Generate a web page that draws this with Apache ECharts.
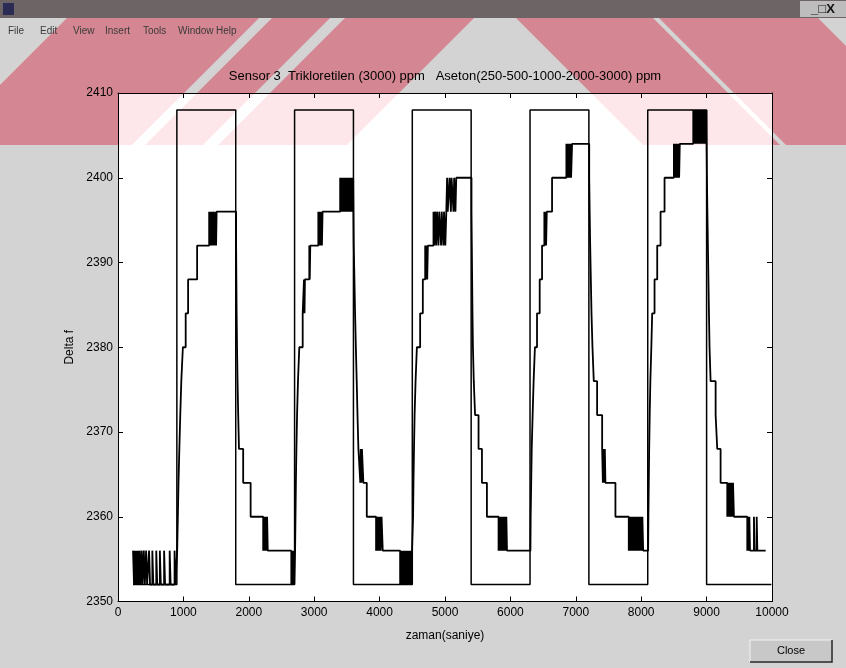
<!DOCTYPE html>
<html>
<head>
<meta charset="utf-8">
<script src="https://cdn.jsdelivr.net/npm/echarts@6/dist/echarts.min.js"></script>
<style>
html,body{margin:0;padding:0;background:#d3d3d3;}
#chart{width:846px;height:668px;}
</style>
</head>
<body>
<div id="chart"></div>
<script>
// ---------------- DATA ----------------
const chartTitle = 'Sensor 3  Trikloretilen (3000) ppm   Aseton(250-500-1000-2000-3000) ppm';
const xAxisTitle = 'zaman(saniye)';
const yAxisTitle = 'Delta f';
const menuItems = ['File', 'Edit', 'View', 'Insert', 'Tools', 'Window', 'Help'];

const xRange = [0, 10000];
const yRange = [2350, 2410];

// gas on / off square wave
const gasOnTimes  = [900, 2700, 4500, 6300, 8100];
const gasOffTimes = [1800, 3600, 5400, 7200, 9000];
const gasLevels   = [2352, 2408];      // off, on
const gasSpan     = [230, 9990];       // first / last time of the record

// sensor response [time, delta f] (held until next time)
const response1 = [
  [230,2356],[245,2352],[256,2356],[268,2352],[280,2356],[292,2352],[305,2356],[318,2352],[330,2356],[345,2352],
  [362,2356],[375,2352],[395,2356],[410,2352],[430,2356],[445,2352],[475,2356],[490,2352],[525,2356],[540,2352],
  [585,2356],[600,2352],[640,2356],[655,2352],[705,2356],[720,2352],[790,2356],[805,2352],[865,2356],[880,2352],
  [905,2356],[915,2360],[925,2364],[938,2368],[952,2372],[968,2376],[992,2380],[1035,2384],[1072,2388],[1210,2392],
  [1394,2396],[1404,2392],[1414,2396],[1426,2392],[1436,2396],[1450,2392],[1460,2396],[1478,2392],[1490,2396],[1500,2392],[1508,2396],
  [1806,2392],[1810,2388],[1814,2384],[1820,2380],[1828,2376],[1838,2372],[1850,2368],[1914,2364],[2028,2360],
  [2220,2356],[2232,2360],[2244,2356],[2256,2360],[2268,2356],[2280,2360],[2290,2356],
  [2650,2352],[2662,2356],[2672,2352],[2684,2356],[2694,2352]
];
const response2 = [
  [2708,2356],[2714,2360],[2720,2364],[2728,2368],[2738,2372],[2752,2376],[2772,2380],[2824,2384],[2844,2388],[2852,2384],[2858,2388],
  [2925,2392],[2932,2388],[2940,2392],[3063,2396],[3072,2392],[3082,2396],[3094,2392],[3104,2396],[3118,2392],[3128,2396],
  [3397,2400],[3408,2396],[3416,2400],[3426,2396],[3436,2400],[3446,2396],[3456,2400],[3466,2396],[3476,2400],[3486,2396],
  [3496,2400],[3506,2396],[3516,2400],[3526,2396],[3536,2400],[3546,2396],[3556,2400],[3566,2396],[3576,2400],[3586,2396],[3596,2400],
  [3605,2392],[3615,2388],[3625,2384],[3637,2380],[3650,2376],[3662,2372],[3676,2368],[3705,2364],[3712,2368],[3722,2364],[3730,2368],
  [3752,2364],[3804,2360],[3946,2356],[3956,2360],[3966,2356],[3978,2360],[3990,2356],[4004,2360],[4016,2356],[4030,2360],[4048,2356],
  [4314,2352],[4322,2356],[4330,2352],[4338,2356],[4346,2352],[4354,2356],[4362,2352],[4370,2356],[4380,2352],[4388,2356],
  [4398,2352],[4406,2356],[4416,2352],[4424,2356],[4434,2352],[4442,2356],[4452,2352],[4460,2356],[4470,2352],[4478,2356],[4488,2352],[4496,2356]
];
const response3 = [
  [4508,2356],[4512,2360],[4518,2364],[4526,2368],[4535,2372],[4550,2376],[4570,2380],[4620,2384],[4661,2388],
  [4697,2392],[4707,2388],[4716,2392],[4728,2388],[4738,2392],
  [4824,2396],[4836,2392],[4848,2396],[4866,2392],[4878,2396],[4900,2392],[4912,2396],[4940,2392],[4950,2396],[4975,2392],[4985,2396],[5005,2392],
  [5020,2396],[5032,2400],[5042,2396],[5069,2400],[5090,2396],[5100,2400],[5130,2396],[5140,2400],[5160,2396],[5172,2400],
  [5405,2396],[5410,2392],[5415,2388],[5420,2384],[5427,2380],[5440,2376],[5460,2372],[5513,2368],[5565,2364],[5641,2360],
  [5819,2356],[5830,2360],[5842,2356],[5856,2360],[5868,2356],[5882,2360],[5894,2356],[5910,2360],[5922,2356],[5938,2360],[5948,2356]
];
const response4 = [
  [6306,2356],[6310,2360],[6318,2364],[6326,2368],[6340,2372],[6355,2376],[6375,2380],[6407,2384],[6448,2388],[6484,2392],
  [6519,2396],[6528,2392],[6536,2396],[6546,2392],[6556,2396],[6637,2400],
  [6856,2404],[6866,2400],[6874,2404],[6884,2400],[6894,2404],[6906,2400],[6916,2404],[6928,2400],[6943,2404],
  [7205,2400],[7212,2396],[7220,2392],[7230,2388],[7240,2384],[7255,2380],[7275,2376],[7326,2372],[7403,2368],
  [7414,2364],[7424,2368],[7436,2364],[7444,2368],[7453,2364],[7606,2360],
  [7810,2356],[7820,2360],[7830,2356],[7842,2360],[7852,2356],[7864,2360],[7876,2356],[7888,2360],[7900,2356],[7914,2360],
  [7926,2356],[7940,2360],[7952,2356],[7966,2360],[7978,2356],[7992,2360],[8004,2356],[8018,2360],[8030,2356]
];
const response5 = [
  [8106,2356],[8110,2360],[8116,2364],[8122,2368],[8130,2372],[8140,2376],[8155,2380],[8168,2384],[8204,2388],[8245,2392],[8296,2396],[8357,2400],
  [8500,2404],[8510,2400],[8520,2404],[8532,2400],[8544,2404],[8556,2400],[8570,2404],[8580,2400],[8590,2404],
  [8796,2408],[8806,2404],[8814,2408],[8824,2404],[8832,2408],[8842,2404],[8850,2408],[8862,2404],[8870,2408],[8880,2404],
  [8888,2408],[8898,2404],[8906,2408],[8918,2404],[8926,2408],[8936,2404],[8944,2408],[8954,2404],[8962,2408],[8972,2404],
  [8980,2408],[8990,2404],[8996,2408],
  [9005,2400],[9012,2396],[9020,2392],[9028,2388],[9036,2384],[9045,2380],[9061,2376],[9138,2372],[9163,2368],[9214,2364],
  [9316,2360],[9328,2364],[9340,2360],[9352,2364],[9366,2360],[9378,2364],[9392,2360],[9404,2364],[9418,2360],
  [9622,2356],[9632,2360],[9642,2356],[9654,2360],[9664,2356],[9724,2360],[9734,2356],[9766,2360],[9776,2356],[9903,2356]
];

// ---------------- BUILD ----------------
const gasWave = [[gasSpan[0], gasLevels[0]]];
gasOnTimes.forEach((t, i) => {
  gasWave.push([t, gasLevels[1]]);
  gasWave.push([gasOffTimes[i], gasLevels[0]]);
});
gasWave.push([gasSpan[1], gasLevels[0]]);
const responseWave = [].concat(response1, response2, response3, response4, response5);

// watermark stripes (decoration, pixel geometry)
function slash(b0, b1, topY, botY) { // "/" : top shifted right
  const h = botY - topY;
  return [[b0, botY], [b1, botY], [b1 + h, topY], [b0 + h, topY]];
}
function backslash(t0, t1, topY, botY) { // "\" : bottom shifted right
  const h = botY - topY;
  return [[t0, topY], [t1, topY], [t1 + h, botY], [t0 + h, botY]];
}
const stripes = [
  slash(-60, 132, 0, 145),
  slash(145, 203, 0, 145),
  slash(218, 347, 0, 145),
  backslash(498, 635, 0, 145),
  backslash(641, 800, 0, 145)
];

const FONT = '"Liberation Sans", Arial, Helvetica, sans-serif';
const graphics = [];
stripes.forEach(p => graphics.push({type:'polygon', z:1, silent:true, shape:{points:p}, style:{fill:'rgba(205,40,60,0.38)'}}));
// plot area white background
graphics.push({type:'rect', z:2, silent:true, shape:{x:118, y:93, width:654, height:508.5}, style:{fill:'#ffffff'}});
stripes.forEach(p => graphics.push({type:'polygon', z:3, silent:true, shape:{points:p}, style:{fill:'rgba(235,60,90,0.12)'}}));
// window title bar
graphics.push({type:'rect', z:4, silent:true, shape:{x:0, y:0, width:846, height:18}, style:{fill:'#6d6466'}});
graphics.push({type:'rect', z:4, silent:true, shape:{x:800, y:1, width:46, height:16}, style:{fill:'#bdbdbd'}});
graphics.push({type:'rect', z:5, silent:true, shape:{x:3, y:3, width:11, height:12}, style:{fill:'#2b2b55'}});
graphics.push({type:'text', z:5, silent:true, x:823, y:9, style:{text:'_□X', font:'bold 13px ' + FONT, fill:'#111', align:'center', verticalAlign:'middle', textAlign:'center', textVerticalAlign:'middle'}});
// menu
const menuX = [8, 40, 73, 105, 143, 178, 216];
menuItems.forEach((m, i) => graphics.push({type:'text', z:5, silent:true, x:menuX[i], y:31,
  style:{text:m, font:'10px ' + FONT, fill:'#3a3a3a', align:'left', verticalAlign:'middle', textAlign:'left', textVerticalAlign:'middle'}}));
// chart title
graphics.push({type:'text', z:6, silent:true, x:445, y:76, style:{text:chartTitle, font:'13px ' + FONT, fill:'#000',
  align:'center', verticalAlign:'middle', textAlign:'center', textVerticalAlign:'middle'}});
// Close button
graphics.push({type:'rect', z:5, silent:true, shape:{x:750, y:640, width:82, height:22}, style:{fill:'#c8c8c8', stroke:'#f2f2f2', lineWidth:1}});
graphics.push({type:'polyline', z:6, silent:true, shape:{points:[[750,662],[832,662],[832,640]]}, style:{stroke:'#222', lineWidth:1.5, fill:null}});
graphics.push({type:'text', z:6, silent:true, x:791, y:651, style:{text:'Close', font:'11px ' + FONT, fill:'#000',
  align:'center', verticalAlign:'middle', textAlign:'center', textVerticalAlign:'middle'}});

const axisLineStyle = {color:'#000', width:1};
const plainNumber = v => String(v);
const option = {
  backgroundColor: '#d3d3d3',
  animation: false,
  grid: {left:118, top:93, width:654, height:508.5, containLabel:false, outerBoundsMode:'none', show:false},
  xAxis: [
    {type:'value', position:'bottom', min:xRange[0], max:xRange[1], interval:1000, z:8,
     axisLine:{show:true, onZero:false, lineStyle:axisLineStyle},
     axisTick:{show:true, inside:true, length:5, lineStyle:axisLineStyle},
     axisLabel:{show:true, margin:5, color:'#000', fontSize:12, fontFamily:FONT, formatter:plainNumber, showMinLabel:true, showMaxLabel:true},
     splitLine:{show:false},
     name:xAxisTitle, nameLocation:'middle', nameGap:28, nameTextStyle:{color:'#000', fontSize:12, fontFamily:FONT}},
    {type:'value', position:'top', min:xRange[0], max:xRange[1], interval:1000, z:8,
     axisLine:{show:true, onZero:false, lineStyle:axisLineStyle},
     axisTick:{show:true, inside:true, length:5, lineStyle:axisLineStyle},
     axisLabel:{show:false}, splitLine:{show:false}}
  ],
  yAxis: [
    {type:'value', position:'left', min:yRange[0], max:yRange[1], interval:10, z:8,
     axisLine:{show:true, onZero:false, lineStyle:axisLineStyle},
     axisTick:{show:true, inside:true, length:5, lineStyle:axisLineStyle},
     axisLabel:{show:true, margin:5, color:'#000', fontSize:12, fontFamily:FONT, formatter:plainNumber, showMinLabel:true, showMaxLabel:true},
     splitLine:{show:false},
     name:yAxisTitle, nameLocation:'middle', nameGap:31, nameRotate:90, nameTextStyle:{color:'#000', fontSize:12, fontFamily:FONT}},
    {type:'value', position:'right', min:yRange[0], max:yRange[1], interval:10, z:8,
     axisLine:{show:true, onZero:false, lineStyle:axisLineStyle},
     axisTick:{show:true, inside:true, length:5, lineStyle:axisLineStyle},
     axisLabel:{show:false}, splitLine:{show:false}}
  ],
  series: [
    {type:'line', name:'gas', xAxisIndex:0, yAxisIndex:0, data:gasWave, step:'end', showSymbol:false, symbol:'none',
     lineStyle:{color:'#000', width:1.5}, z:7, silent:true},
    {type:'line', name:'response', xAxisIndex:0, yAxisIndex:0, data:responseWave, step:'end', showSymbol:false, symbol:'none',
     lineStyle:{color:'#000', width:1.8}, z:7, silent:true}
  ],
  graphic: graphics
};
const chart = echarts.init(document.getElementById('chart'), null, {renderer:'canvas'});
chart.setOption(option);
</script>
</body>
</html>
